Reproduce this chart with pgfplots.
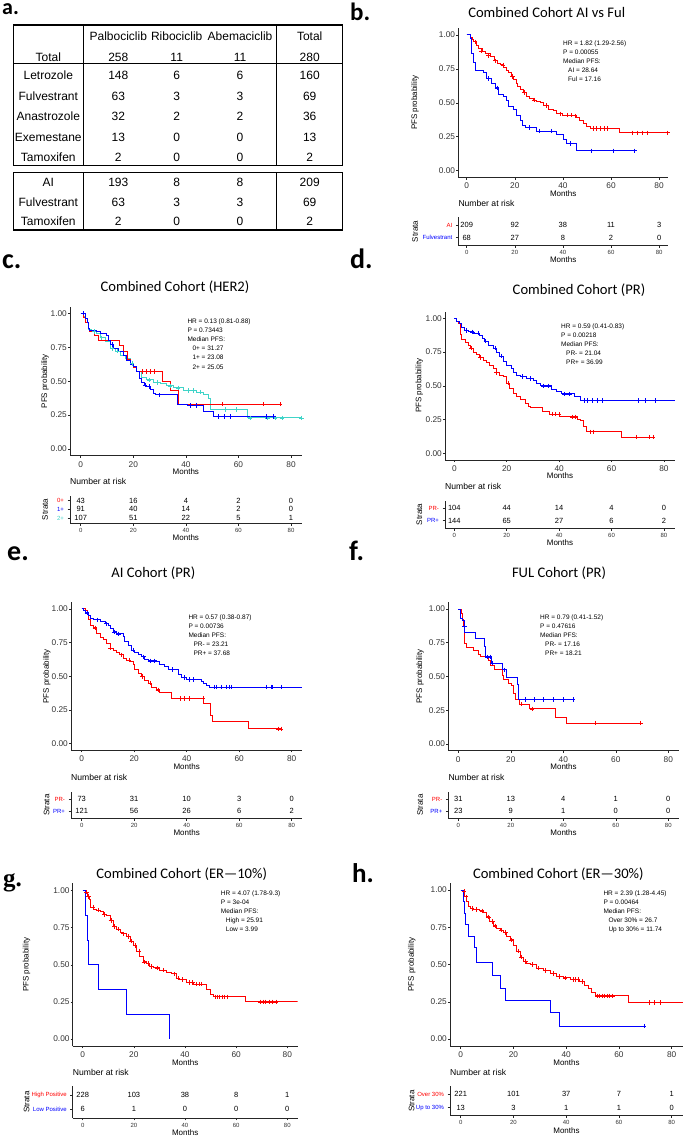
\documentclass[border=0pt]{standalone}
\usepackage{pgfplots}
\pgfplotsset{compat=1.18}
\usepackage{fontspec}
\setmainfont{Liberation Sans}
\newfontfamily\calfont{Carlito}
\newfontfamily\timesfont{Liberation Serif}
\definecolor{kmred}{RGB}{255,0,0}
\definecolor{kmblue}{RGB}{0,0,255}
\definecolor{kmcyan}{RGB}{64,212,200}
\pgfplotsset{
 km/.style={
   scale only axis, anchor=south west,
   axis x line*=bottom, axis y line*=left,
   axis line style={-, draw=black!85, line width=0.7pt},
   every tick/.style={draw=black!85, line width=0.6pt},
   tick align=outside, major tick length=2pt,
   xtick={0,20,40,60,80},
   ymin=-0.05, ymax=1.05,
   ytick={0,0.25,0.5,0.75,1},
   yticklabels={0.00,0.25,0.50,0.75,1.00},
   ticklabel style={font=\fontsize{8.3}{9}\selectfont, text=black!80},
   xticklabel style={yshift=0pt},
   yticklabel style={inner sep=1pt},
   /pgf/number format/assume math mode=true,
   xlabel={Months}, ylabel={PFS probability},
   label style={font=\fontsize{8}{9}\selectfont},
   xlabel style={at={(axis description cs:0.5,0)}, anchor=center, yshift=-15.8pt},
 },
 ylx/.style={ylabel style={at={([xshift=-#1pt]axis description cs:0,0.5)}, anchor=center}},
 kmline/.style={const plot, line width=1pt, mark=none},
 cens/.style={only marks, mark=+, mark size=2.2pt, mark options={line width=0.55pt}},
 risk/.style={
   scale only axis, anchor=south west,
   axis x line*=bottom, axis y line*=left,
   axis line style={-, draw=black!85, line width=0.7pt},
   every tick/.style={draw=black!85, line width=0.6pt},
   tick align=outside, major tick length=2.5pt,
   xtick={0,20,40,60,80},
   ymin=0.4,
   xticklabel style={font=\fontsize{6}{7}\selectfont, text=black!80, yshift=1pt},
   yticklabel style={font=\fontsize{6}{7}\selectfont},
   /pgf/number format/assume math mode=true,
   xlabel={Months}, ylabel={Strata},
   label style={font=\fontsize{8}{9}\selectfont},
   xlabel style={at={(axis description cs:0.5,0)}, anchor=center, yshift=-14.8pt},
   title={Number at risk},
   title style={at={(0,1)}, anchor=south west, inner sep=0pt, yshift=5pt, font=\fontsize{8.6}{9}\selectfont},
 },
}
\newcommand\riskrow[6]{%
 \node[font=\fontsize{7.5}{8}\selectfont] at (axis cs:0,#1) {#2};
 \node[font=\fontsize{7.5}{8}\selectfont] at (axis cs:20,#1) {#3};
 \node[font=\fontsize{7.5}{8}\selectfont] at (axis cs:40,#1) {#4};
 \node[font=\fontsize{7.5}{8}\selectfont] at (axis cs:60,#1) {#5};
 \node[font=\fontsize{7.5}{8}\selectfont] at (axis cs:80,#1) {#6};}
\newcommand\annot[3]{\node[anchor=north west, align=left, inner sep=0pt, font=\fontsize{6.5}{9.1}\selectfont] at (#1pt,-#2pt) {#3};}
\newcommand\ptitle[3]{\node[font=\calfont\fontsize{14.6}{16}\selectfont] at (#1pt,-#2pt) {#3};}
\newcommand\plabel[4]{\node[anchor=base west, inner sep=0pt, font=\calfont\bfseries\fontsize{#3}{#3}\selectfont] at (#1pt,-#2pt) {#4};}
\begin{document}
\begin{tikzpicture}
\useasboundingbox (0,0) rectangle (685pt,-1137pt);
% ---------------- panel a: table
\begin{scope}[every node/.style={font=\fontsize{12}{14}\selectfont, text height=8.6pt, text depth=0pt, inner sep=0pt, anchor=center}]
\draw[line width=1.2pt] (13.3pt,-25pt) rectangle (342.7pt,-165.7pt);
\draw[line width=1.2pt] (13.3pt,-172.3pt) rectangle (342.7pt,-230pt);
\draw[line width=1.2pt] (13.3pt,-63.3pt) -- (342.7pt,-63.3pt);
\draw[line width=1.2pt] (83.3pt,-25pt) -- (83.3pt,-165.7pt);
\draw[line width=1.2pt] (276.7pt,-25pt) -- (276.7pt,-165.7pt);
\draw[line width=1.2pt] (83.3pt,-172.3pt) -- (83.3pt,-230pt);
\draw[line width=1.2pt] (276.7pt,-172.3pt) -- (276.7pt,-230pt);
\node at (118.3pt,-36.7pt) {Palbociclib};
\node at (176.7pt,-36.7pt) {Ribociclib};
\node at (240pt,-36.7pt) {Abemaciclib};
\node at (309.7pt,-36.7pt) {Total};
\foreach \lab/\pa/\ri/\ab/\tot/\yy in {Total/258/11/11/280/57.3, Letrozole/148/6/6/160/75.7, Fulvestrant/63/3/3/69/96.7, Anastrozole/32/2/2/36/116.7, Exemestane/13/0/0/13/137.3, Tamoxifen/2/0/0/2/156.7, AI/193/8/8/209/181.7, Fulvestrant/63/3/3/69/201.7, Tamoxifen/2/0/0/2/220.7}{
 \node at (48.3pt,-\yy pt) {\lab};
 \node at (118.3pt,-\yy pt) {\pa};
 \node at (176.7pt,-\yy pt) {\ri};
 \node at (240pt,-\yy pt) {\ab};
 \node at (309.7pt,-\yy pt) {\tot};
}
\end{scope}
\node[anchor=base west, inner sep=0pt, font=\calfont\bfseries\fontsize{22}{22}\selectfont] at (2pt,-15pt) {a.};
% ---------------- panel b
\plabel{350}{20.7}{25}{b.}
\ptitle{546.7}{12.7}{Combined Cohort AI vs Ful}
\begin{axis}[km, ylx=43.3, at={(458.3pt,-177.5pt)}, width=209.7pt, height=149.3pt, xmin=-3.5, xmax=83.7]
\addplot[kmline, kmred] coordinates {(0,1)(1.5,0.985)(2.5,0.97)(3,0.95)(4,0.92)(5,0.90)(6.5,0.88)(8,0.86)(9.7,0.84)(11.5,0.81)(13,0.79)(14,0.78)(15.5,0.76)(16.6,0.74)(17.5,0.72)(18.5,0.695)(19.4,0.67)(20.5,0.645)(21.3,0.62)(22.2,0.60)(23.5,0.575)(25,0.545)(26.3,0.53)(27.7,0.52)(29,0.51)(30.5,0.50)(32,0.48)(34,0.45)(36,0.44)(37.4,0.42)(40,0.41)(44.4,0.405)(45.5,0.39)(47.1,0.37)(48.5,0.35)(49.9,0.325)(51.3,0.31)(63.5,0.28)(83.9,0.28)};
\addplot[cens, kmred] coordinates {(3.5,0.95)(6,0.88)(9,0.85)(12,0.81)(15,0.78)(19,0.695)(24,0.575)(28,0.52)(33,0.48)(39,0.42)(42,0.41)(43.5,0.41)(45,0.405)(52.5,0.31)(54,0.31)(55.5,0.31)(57,0.31)(58.5,0.31)(69,0.28)(71,0.28)(73,0.28)(75,0.28)(83.5,0.28)};
\addplot[kmline, kmblue] coordinates {(0,1)(1.4,0.975)(2.1,0.86)(2.8,0.80)(3.5,0.74)(6.9,0.72)(8.3,0.68)(10.4,0.64)(11.8,0.61)(13.2,0.56)(15.3,0.545)(16.6,0.52)(17.3,0.47)(19.4,0.45)(20.8,0.41)(22.2,0.37)(23.3,0.33)(24.3,0.319)(29.1,0.292)(37.4,0.268)(40.2,0.231)(41.6,0.20)(45.8,0.147)(69.7,0.147)};
\addplot[cens, kmblue] coordinates {(9,0.68)(12.5,0.61)(26,0.319)(30,0.292)(35,0.292)(43,0.20)(52,0.147)(61,0.147)(69.7,0.147)};
\end{axis}
\annot{563}{40.6}{HR = 1.82 (1.29-2.56)\\P = 0.00055\\Median PFS:\\\hspace*{5pt}AI = 28.64\\\hspace*{5pt}Ful = 17.16}
\begin{axis}[risk, ylx=43.3, at={(458.3pt,-245.3pt)}, width=209.7pt, height=27.9pt, xmin=-3.5, xmax=83.7, ymax=2.6, ytick={1,2}, yticklabels={{\color{kmblue}Fulvestrant},{\color{kmred}AI}}]
\riskrow{2}{209}{92}{38}{11}{3}
\riskrow{1}{68}{27}{8}{2}{0}
\end{axis}
% ---------------- panel c
\plabel{2}{268}{28}{c.}
\ptitle{175}{287}{Combined Cohort (HER2)}
\begin{axis}[km, ylx=25, at={(70pt,-455.8pt)}, width=231.7pt, height=149.3pt, xmin=-4.07, xmax=84.06]
\addplot[kmline, kmcyan] coordinates {(0,1)(1,0.975)(2,0.93)(2.9,0.88)(4.2,0.865)(6.1,0.85)(7.4,0.82)(9.3,0.79)(11.2,0.74)(13.1,0.72)(15,0.69)(16.9,0.67)(18.8,0.63)(20,0.61)(21.3,0.57)(23.2,0.53)(25.1,0.51)(27.6,0.49)(30.2,0.48)(32.7,0.465)(35.2,0.45)(39,0.43)(44.1,0.42)(46.7,0.40)(48.6,0.37)(49.2,0.29)(63.4,0.23)(84,0.23)};
\addplot[cens, kmcyan] coordinates {(5,0.865)(8,0.82)(12,0.74)(14,0.72)(19.5,0.63)(26,0.51)(29,0.49)(34,0.465)(37,0.45)(41,0.43)(43,0.43)(45.5,0.42)(55,0.29)(59,0.29)(64.5,0.23)(71,0.23)(74,0.23)(76.5,0.23)(84,0.23)};
\addplot[kmline, kmred] coordinates {(0,1)(1,0.97)(2,0.93)(2.9,0.89)(3.5,0.865)(5.4,0.84)(6.7,0.80)(14.7,0.76)(16.2,0.72)(17.7,0.66)(19,0.62)(20,0.60)(21.3,0.57)(31.2,0.50)(34,0.43)(37.1,0.33)(75.8,0.33)};
\addplot[cens, kmred] coordinates {(23.5,0.57)(25,0.57)(26.5,0.57)(28,0.57)(54,0.33)(69.5,0.33)(75.8,0.33)};
\addplot[kmline, kmblue] coordinates {(0,1)(2,0.96)(2.5,0.93)(2.9,0.89)(3.5,0.875)(6.1,0.865)(7.4,0.85)(9.9,0.84)(10.5,0.80)(11.2,0.77)(12.4,0.74)(14.3,0.72)(16.2,0.69)(17.5,0.65)(18.8,0.62)(20,0.61)(21.3,0.57)(22.3,0.52)(23.2,0.49)(24.1,0.47)(25.1,0.46)(26.4,0.435)(27.6,0.41)(28.5,0.40)(36.9,0.33)(40.5,0.32)(46.7,0.28)(50.5,0.24)(73.3,0.24)};
\addplot[cens, kmblue] coordinates {(1,1)(12,0.77)(24.5,0.47)(26,0.46)(30,0.40)(41.5,0.32)(44,0.32)(52.5,0.24)(54.5,0.24)(57,0.24)(70.5,0.24)(73.3,0.24)};
\end{axis}
\annot{187.3}{318.6}{HR = 0.13 (0.81-0.88)\\P = 0.73443\\Median PFS:\\\hspace*{5pt}0+ = 31.27\\\hspace*{5pt}1+ = 23.08\\\hspace*{5pt}2+ = 25.05}
\begin{axis}[risk, ylx=25, at={(70pt,-523.2pt)}, width=231.7pt, height=27.7pt, xmin=-4.07, xmax=84.06, ymax=3.6, ytick={1,2,3}, yticklabels={{\color{kmcyan}2+},{\color{kmblue}1+},{\color{kmred}0+}}]
\riskrow{3}{43}{16}{4}{2}{0}
\riskrow{2}{91}{40}{14}{2}{0}
\riskrow{1}{107}{51}{22}{5}{1}
\end{axis}
% ---------------- panel d
\plabel{350}{268}{28}{d.}
\ptitle{579}{290}{Combined Cohort (PR)}
\begin{axis}[km, ylx=25.7, at={(445pt,-460.05pt)}, width=230pt, height=148.5pt, xmin=-3.55, xmax=84.2]
\addplot[kmline, kmred] coordinates {(0,1)(0.9,0.98)(1.5,0.96)(2.2,0.91)(2.5,0.88)(2.8,0.84)(4.1,0.82)(5.3,0.80)(6.2,0.78)(7.2,0.75)(8.5,0.73)(9.8,0.71)(11.1,0.69)(12.3,0.67)(13.6,0.65)(14.9,0.63)(16.2,0.60)(17.4,0.58)(18.7,0.57)(20,0.52)(21.2,0.48)(22.5,0.44)(23.8,0.42)(25.1,0.40)(27,0.37)(28.2,0.35)(29,0.34)(33.7,0.31)(36.5,0.29)(40.3,0.27)(46.9,0.25)(48,0.24)(49.2,0.20)(50.5,0.16)(63.8,0.12)(75.9,0.12)};
\addplot[cens, kmred] coordinates {(6.5,0.78)(10,0.71)(16,0.60)(20.5,0.52)(37.5,0.29)(38.5,0.29)(40,0.29)(45,0.27)(46.2,0.27)(52,0.16)(53,0.16)(69.5,0.12)(74.5,0.12)(75.9,0.12)};
\addplot[kmline, kmblue] coordinates {(0,1)(0.9,0.98)(1.9,0.96)(2.8,0.93)(3.7,0.91)(5.3,0.90)(7.2,0.89)(9.8,0.875)(10.8,0.85)(11.7,0.83)(13,0.80)(14.9,0.78)(16.2,0.75)(17.4,0.72)(18.7,0.68)(20,0.65)(21.9,0.63)(22.5,0.60)(23.8,0.58)(25.1,0.57)(27.6,0.555)(30.1,0.54)(31.4,0.52)(32.7,0.50)(37.1,0.47)(39,0.455)(41,0.44)(46,0.42)(48,0.39)(84.2,0.39)};
\addplot[cens, kmblue] coordinates {(4.5,0.91)(7,0.90)(9,0.89)(12,0.83)(15.5,0.78)(18,0.72)(26,0.57)(29,0.555)(34,0.50)(36,0.50)(42,0.44)(44,0.44)(49.4,0.39)(50.6,0.39)(52.5,0.39)(54.4,0.39)(56.3,0.39)(70.2,0.39)(72.8,0.39)(76.5,0.39)};
\end{axis}
\annot{561}{323.6}{HR = 0.59 (0.41-0.83)\\P = 0.00218\\Median PFS:\\\hspace*{5pt}PR- = 21.04\\\hspace*{5pt}PR+ = 36.99}
\begin{axis}[risk, ylx=25.7, at={(445pt,-528.1pt)}, width=230pt, height=27.2pt, xmin=-3.55, xmax=84.2, ymax=2.6, ytick={1,2}, yticklabels={{\color{kmblue}PR+},{\color{kmred}PR-}}]
\riskrow{2}{104}{44}{14}{4}{0}
\riskrow{1}{144}{65}{27}{6}{2}
\end{axis}
% ---------------- panel e
\plabel{7}{560}{28}{e.}
\ptitle{153.3}{573.3}{AI Cohort (PR)}
\begin{axis}[km, ylx=24.3, at={(71pt,-750.4pt)}, width=231.3pt, height=148.2pt, xmin=-4.07, xmax=84.07]
\addplot[kmline, kmred] coordinates {(0,1)(1.3,0.99)(2.2,0.97)(2.5,0.92)(3.2,0.88)(4.4,0.86)(5.7,0.82)(7,0.79)(8.2,0.77)(9.5,0.745)(10.8,0.71)(12,0.695)(13.3,0.68)(14.6,0.66)(15.8,0.63)(17.1,0.62)(18.4,0.61)(19.7,0.585)(20.3,0.55)(21.6,0.52)(22.8,0.50)(24.1,0.47)(25.4,0.45)(26.6,0.42)(28.5,0.40)(29.8,0.38)(34.2,0.335)(46.5,0.295)(49,0.21)(50,0.165)(63.4,0.11)(76,0.11)};
\addplot[cens, kmred] coordinates {(5,0.86)(11,0.71)(15,0.66)(18,0.62)(23,0.50)(26,0.45)(29,0.40)(37.5,0.335)(39,0.335)(41,0.335)(46.3,0.335)(75,0.11)(76,0.11)};
\addplot[kmline, kmblue] coordinates {(0,1)(0.6,0.99)(1.6,0.97)(2.5,0.955)(3.2,0.93)(4.4,0.92)(7,0.905)(8.9,0.89)(10.1,0.88)(10.8,0.855)(12,0.83)(13.3,0.815)(15.8,0.795)(16.5,0.76)(17.7,0.725)(19,0.695)(20.3,0.675)(21.6,0.66)(22.8,0.645)(24.1,0.625)(25.4,0.615)(28.5,0.61)(29.8,0.59)(31.7,0.57)(33,0.55)(36.8,0.51)(38,0.49)(40,0.475)(45.6,0.465)(46.5,0.45)(47.5,0.435)(48.6,0.42)(84,0.42)};
\addplot[cens, kmblue] coordinates {(2,0.97)(6,0.92)(9.5,0.89)(12.5,0.83)(14,0.815)(19.5,0.695)(23.5,0.645)(26,0.615)(27.5,0.615)(34.5,0.55)(39,0.49)(41,0.475)(42.5,0.475)(50.7,0.42)(51.3,0.42)(53.2,0.42)(55.1,0.42)(56.4,0.42)(57,0.42)(70.3,0.42)(72.2,0.42)(72.8,0.42)(76,0.42)};
\end{axis}
\annot{188.3}{614.3}{HR = 0.57 (0.38-0.87)\\P = 0.00736\\Median PFS:\\\hspace*{5pt}PR- = 23.21\\\hspace*{5pt}PR+ = 37.68}
\begin{axis}[risk, ylx=24.3, at={(71pt,-818.2pt)}, width=231.3pt, height=26.4pt, xmin=-4.07, xmax=84.07, ymax=2.6, ytick={1,2}, yticklabels={{\color{kmblue}PR+},{\color{kmred}PR-}}]
\riskrow{2}{73}{31}{10}{3}{0}
\riskrow{1}{121}{56}{26}{6}{2}
\end{axis}
% ---------------- panel f
\plabel{349}{560}{28}{f.}
\ptitle{559}{573.3}{FUL Cohort (PR)}
\begin{axis}[km, ylx=28.3, at={(448.3pt,-750.75pt)}, width=230.5pt, height=148.5pt, xmin=-3.81, xmax=84]
\addplot[kmline, kmred] coordinates {(0,1)(1.3,0.97)(1.7,0.92)(1.9,0.87)(2.2,0.815)(2.5,0.745)(3.2,0.715)(5.7,0.69)(7.6,0.665)(8.3,0.645)(11.4,0.62)(12.3,0.58)(13.6,0.55)(16.9,0.51)(17.1,0.48)(19,0.445)(20.3,0.43)(21,0.375)(21.6,0.33)(23.5,0.295)(27.3,0.26)(37.2,0.20)(41.3,0.155)(69.5,0.155)};
\addplot[cens, kmred] coordinates {(24,0.295)(28,0.26)(52,0.155)(69.5,0.155)};
\addplot[kmline, kmblue] coordinates {(0,1)(0.9,0.93)(1.7,0.915)(2.2,0.87)(2.5,0.825)(6.7,0.78)(9.9,0.72)(10.4,0.645)(12.7,0.60)(16.8,0.55)(18.4,0.495)(22.5,0.44)(22.9,0.33)(43.8,0.33)};
\addplot[cens, kmblue] coordinates {(2.3,0.87)(11,0.645)(12,0.645)(13,0.60)(17.5,0.55)(25.5,0.33)(29,0.33)(32.5,0.33)(36.3,0.33)(40,0.33)(43.8,0.33)};
\end{axis}
\annot{540}{614.3}{HR = 0.79 (0.41-1.52)\\P = 0.47616\\Median PFS:\\\hspace*{5pt}PR- = 17.16\\\hspace*{5pt}PR+ = 18.21}
\begin{axis}[risk, ylx=28.3, at={(448.3pt,-818.2pt)}, width=230.5pt, height=26.4pt, xmin=-3.81, xmax=84, ymax=2.6, ytick={1,2}, yticklabels={{\color{kmblue}PR+},{\color{kmred}PR-}}]
\riskrow{2}{31}{13}{4}{1}{0}
\riskrow{1}{23}{9}{1}{0}{0}
\end{axis}
% ---------------- panel g
\node[anchor=base west, inner sep=0pt, font=\timesfont\bfseries\fontsize{25}{25}\selectfont] at (3pt,-886.5pt) {g.};
\ptitle{181.7}{874}{Combined Cohort (ER—10\%)}
\begin{axis}[km, ylx=46.2, at={(72.7pt,-1046.4pt)}, width=225pt, height=163.1pt, xmin=-3.91, xmax=84.07]
\addplot[kmline, kmred] coordinates {(0,1)(0.9,0.99)(1.8,0.96)(2.6,0.94)(3.1,0.89)(4.2,0.875)(5.5,0.87)(6.8,0.86)(8.1,0.84)(9.4,0.83)(10.7,0.80)(12,0.76)(13.3,0.74)(14.6,0.72)(15.9,0.71)(17.2,0.69)(18.5,0.66)(19.8,0.63)(21.1,0.59)(22.4,0.555)(23.7,0.52)(25,0.51)(26.3,0.49)(27.6,0.48)(30.2,0.465)(32.8,0.447)(34.8,0.44)(36.7,0.41)(38,0.40)(40.7,0.38)(43.3,0.37)(47.2,0.365)(48.5,0.335)(49.8,0.30)(51.1,0.285)(63.7,0.25)(84,0.25)};
\addplot[cens, kmred] coordinates {(1.5,0.99)(2.2,0.96)(4,0.89)(6,0.87)(8.5,0.84)(11,0.80)(12.5,0.76)(14,0.74)(16,0.71)(17.8,0.69)(19,0.66)(20.5,0.63)(22,0.59)(24,0.52)(25.5,0.51)(27,0.49)(29,0.48)(31.5,0.465)(36,0.44)(37.3,0.41)(39,0.40)(41.5,0.38)(43,0.38)(44.5,0.37)(45.5,0.37)(46.5,0.37)(51.7,0.285)(52.5,0.285)(53.5,0.285)(54.5,0.285)(55.5,0.285)(56.5,0.285)(69.5,0.25)(70.5,0.25)(71.5,0.25)(73,0.25)(74,0.25)(75.5,0.25)};
\addplot[kmline, kmblue] coordinates {(0,1)(1.2,0.8333)(1.8,0.6667)(2.2,0.5)(6.1,0.3333)(17.2,0.1667)(34.1,0)};
\end{axis}
\annot{220.7}{890.3}{HR = 4.07 (1.78-9.3)\\P = 3e-04\\Median PFS:\\\hspace*{5pt}High = 25.91\\\hspace*{5pt}Low = 3.99}
\begin{axis}[risk, ylx=46.2, at={(72.7pt,-1117.9pt)}, width=225pt, height=31.5pt, xmin=-3.91, xmax=84.07, ymax=2.6, ytick={1,2}, yticklabels={{\color{kmblue}Low Positive},{\color{kmred}High Positive}}]
\riskrow{2}{228}{103}{38}{8}{1}
\riskrow{1}{6}{1}{0}{0}{0}
\end{axis}
% ---------------- panel h
\plabel{352}{882}{27}{h.}
\ptitle{558.3}{874}{Combined Cohort (ER—30\%)}
\begin{axis}[km, ylx=38.3, at={(450pt,-1046.5pt)}, width=233pt, height=163.9pt, xmin=-4.06, xmax=84.3]
\addplot[kmline, kmred] coordinates {(0,1)(1,0.99)(1.6,0.955)(2.3,0.92)(2.9,0.89)(3.8,0.877)(4.8,0.87)(7.3,0.86)(8.6,0.85)(9.9,0.82)(11.1,0.79)(12.4,0.76)(13.6,0.74)(14.9,0.73)(16.2,0.715)(17.4,0.69)(18.7,0.665)(20,0.63)(21.2,0.59)(22.5,0.55)(23.8,0.52)(25,0.51)(26.3,0.50)(28.8,0.475)(31.3,0.46)(33.9,0.44)(36.4,0.42)(38.9,0.41)(41.5,0.40)(45.2,0.385)(47.1,0.36)(48.4,0.34)(49.7,0.31)(51,0.29)(63.7,0.245)(84.4,0.245)};
\addplot[cens, kmred] coordinates {(1.3,0.99)(2,0.955)(4.2,0.877)(6,0.87)(8,0.86)(10.5,0.82)(12,0.79)(13,0.76)(15.5,0.73)(17,0.715)(19,0.665)(21.8,0.59)(23,0.55)(24.5,0.52)(27,0.50)(29.5,0.475)(32,0.46)(35,0.44)(37.5,0.42)(39.5,0.41)(42.5,0.40)(43.5,0.40)(44.5,0.40)(46,0.385)(51.8,0.29)(52.6,0.29)(53.5,0.29)(54.5,0.29)(55.5,0.29)(56.3,0.29)(57.5,0.29)(71.5,0.245)(73.5,0.245)(75.5,0.245)};
\addplot[kmline, kmblue] coordinates {(0,1)(1,0.923)(1.6,0.846)(2,0.77)(2.9,0.69)(5.1,0.615)(6.1,0.515)(12,0.425)(14.9,0.34)(17.1,0.257)(34.1,0.177)(37.3,0.087)(69.6,0.087)};
\addplot[cens, kmblue] coordinates {(69.6,0.087)};
\end{axis}
\annot{603.3}{890.3}{HR = 2.39 (1.28-4.45)\\P = 0.00464\\Median PFS:\\\hspace*{5pt}Over 30\% = 26.7\\\hspace*{5pt}Up to 30\% = 11.74}
\begin{axis}[risk, ylx=38.3, at={(450pt,-1115.7pt)}, width=233pt, height=29.4pt, xmin=-4.06, xmax=84.3, ymax=2.6, ytick={1,2}, yticklabels={{\color{kmblue}Up to 30\%},{\color{kmred}Over 30\%}}]
\riskrow{2}{221}{101}{37}{7}{1}
\riskrow{1}{13}{3}{1}{1}{0}
\end{axis}
\end{tikzpicture}
\end{document}
